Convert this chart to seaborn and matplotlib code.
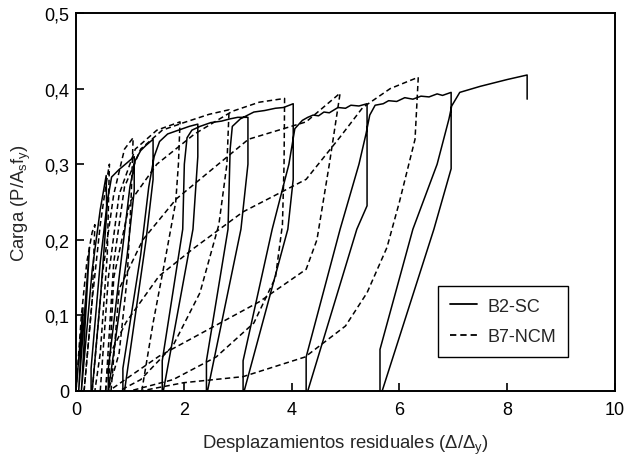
import matplotlib
matplotlib.use("Agg")
import matplotlib.pyplot as plt
import seaborn as sns
import pandas as pd

# ---------------- data ----------------
series_names = ["B2-SC", "B7-NCM"]

# B2-SC : successive load cycles (x = residual displacement, y = load)
sc_c0_x = [0.00, 0.13, 0.05, 0.25, 0.10, 0.30, 0.45, 0.56, 0.57, 0.45, 0.30]
sc_c0_y = [0.000, 0.110, 0.000, 0.190, 0.000, 0.160, 0.240, 0.285, 0.235, 0.120, 0.000]
sc_c1_x = [0.28, 0.28, 0.45, 0.58, 0.66, 0.80, 0.95, 1.08, 1.08, 0.95, 0.60]
sc_c1_y = [0.000, 0.030, 0.170, 0.250, 0.283, 0.293, 0.302, 0.310, 0.265, 0.180, 0.000]
sc_c2_x = [0.60, 0.60, 0.85, 1.00, 1.10, 1.20, 1.30, 1.43, 1.43, 1.30, 0.90]
sc_c2_y = [0.000, 0.030, 0.180, 0.270, 0.305, 0.318, 0.325, 0.333, 0.280, 0.200, 0.000]
sc_c3_x = [0.87, 0.87, 1.20, 1.35, 1.45, 1.55, 1.70, 1.90, 2.10, 2.26, 2.26, 2.17, 1.62]
sc_c3_y = [0.000, 0.030, 0.180, 0.270, 0.310, 0.330, 0.340, 0.345, 0.350, 0.353, 0.310, 0.214, 0.000]
sc_c4_x = [1.60, 1.60, 1.98, 2.01, 2.06, 2.15, 2.30, 2.50, 2.70, 2.86, 3.00, 3.19, 3.19, 3.06, 2.44]
sc_c4_y = [0.000, 0.040, 0.214, 0.300, 0.335, 0.345, 0.350, 0.355, 0.357, 0.360, 0.362, 0.362, 0.300, 0.214, 0.000]
sc_c5_x = [2.42, 2.42, 2.82, 2.86, 2.90, 3.05, 3.30, 3.50, 3.70, 3.85, 4.03, 4.03, 3.93, 3.12]
sc_c5_y = [0.000, 0.040, 0.214, 0.320, 0.350, 0.360, 0.369, 0.371, 0.374, 0.375, 0.380, 0.280, 0.214, 0.000]
sc_c6_x = [3.10, 3.10, 3.64, 3.95, 4.06, 4.20, 4.30, 4.40, 4.50, 4.60, 4.70, 4.86, 5.00, 5.10, 5.25, 5.40, 5.40, 5.21, 4.30]
sc_c6_y = [0.000, 0.040, 0.214, 0.300, 0.347, 0.358, 0.362, 0.365, 0.364, 0.369, 0.368, 0.375, 0.374, 0.378, 0.377, 0.380, 0.245, 0.214, 0.000]
sc_c7_x = [4.27, 4.27, 4.90, 5.25, 5.38, 5.45, 5.55, 5.70, 5.80, 5.95, 6.10, 6.25, 6.40, 6.55, 6.70, 6.80, 6.96, 6.96, 6.64, 5.68]
sc_c7_y = [0.000, 0.045, 0.214, 0.300, 0.340, 0.365, 0.378, 0.380, 0.384, 0.383, 0.388, 0.386, 0.390, 0.389, 0.393, 0.391, 0.395, 0.294, 0.214, 0.000]
sc_c8_x = [5.64, 5.64, 6.25, 6.70, 6.92, 6.97, 7.12, 7.50, 8.00, 8.37, 8.37]
sc_c8_y = [0.000, 0.055, 0.214, 0.300, 0.360, 0.377, 0.395, 0.403, 0.412, 0.418, 0.386]

# B7-NCM : pinched cycles (reloading branch then unloading branch)
nc_c0_x = [0.00, 0.10, 0.20, 0.30, 0.35, 0.30, 0.15]
nc_c0_y = [0.000, 0.100, 0.170, 0.210, 0.220, 0.120, 0.000]
nc_c1_x = [0.15, 0.30, 0.45, 0.55, 0.62, 0.58, 0.45, 0.35]
nc_c1_y = [0.000, 0.120, 0.220, 0.270, 0.300, 0.180, 0.050, 0.000]
nc_c2_x = [0.30, 0.50, 0.70, 0.90, 1.06, 1.02, 0.95, 0.80, 0.60]
nc_c2_y = [0.000, 0.160, 0.260, 0.320, 0.335, 0.250, 0.150, 0.050, 0.000]
nc_c3_x = [0.45, 0.60, 0.80, 1.10, 1.50, 1.93, 1.90, 1.85, 1.67, 1.43, 1.22]
nc_c3_y = [0.000, 0.150, 0.260, 0.320, 0.345, 0.356, 0.300, 0.250, 0.180, 0.090, 0.000]
nc_c4_x = [0.55, 0.70, 0.90, 1.20, 1.60, 2.00, 2.47, 2.84, 2.80, 2.65, 2.30, 1.80, 1.20, 0.80]
nc_c4_y = [0.000, 0.170, 0.270, 0.320, 0.345, 0.355, 0.366, 0.372, 0.300, 0.220, 0.130, 0.060, 0.015, 0.000]
nc_c5_x = [0.60, 0.70, 1.00, 1.50, 2.20, 2.90, 3.40, 3.87, 3.86, 3.83, 3.70, 3.30, 2.60, 1.80, 1.00]
nc_c5_y = [0.000, 0.150, 0.250, 0.300, 0.340, 0.370, 0.382, 0.387, 0.300, 0.220, 0.150, 0.090, 0.045, 0.015, 0.000]
nc_c6_x = [0.65, 0.80, 1.24, 1.86, 2.47, 3.20, 4.27, 4.90, 4.70, 4.47, 4.27, 3.40, 2.47, 1.54, 0.93, 0.61]
nc_c6_y = [0.000, 0.135, 0.200, 0.254, 0.290, 0.333, 0.356, 0.394, 0.300, 0.200, 0.161, 0.118, 0.082, 0.046, 0.016, 0.000]
nc_c7_x = [0.55, 0.61, 0.93, 1.54, 2.17, 3.10, 4.27, 4.90, 5.32, 5.83, 6.14, 6.35, 6.29, 6.00, 5.77, 5.40, 5.00, 4.25, 3.10, 2.00, 1.20]
nc_c7_y = [0.000, 0.046, 0.091, 0.152, 0.188, 0.237, 0.280, 0.336, 0.375, 0.400, 0.409, 0.415, 0.333, 0.250, 0.190, 0.130, 0.086, 0.045, 0.019, 0.011, 0.000]

x_ticks = [0, 2, 4, 6, 8, 10]
x_tick_labels = ["0", "2", "4", "6", "8", "10"]
y_ticks = [0.0, 0.1, 0.2, 0.3, 0.4, 0.5]
y_tick_labels = ["0", "0,1", "0,2", "0,3", "0,4", "0,5"]

# ---------------- build table ----------------
sc_cycles = [(sc_c0_x, sc_c0_y), (sc_c1_x, sc_c1_y), (sc_c2_x, sc_c2_y), (sc_c3_x, sc_c3_y),
             (sc_c4_x, sc_c4_y), (sc_c5_x, sc_c5_y), (sc_c6_x, sc_c6_y), (sc_c7_x, sc_c7_y),
             (sc_c8_x, sc_c8_y)]
nc_cycles = [(nc_c0_x, nc_c0_y), (nc_c1_x, nc_c1_y), (nc_c2_x, nc_c2_y), (nc_c3_x, nc_c3_y),
             (nc_c4_x, nc_c4_y), (nc_c5_x, nc_c5_y), (nc_c6_x, nc_c6_y), (nc_c7_x, nc_c7_y)]

rows = []
for cx, cy in sc_cycles:
    for a, b in zip(cx, cy):
        rows.append({"x": a, "y": b, "serie": series_names[0], "unit": "sc"})
for k, (cx, cy) in enumerate(nc_cycles):
    for a, b in zip(cx, cy):
        rows.append({"x": a, "y": b, "serie": series_names[1], "unit": f"nc{k}"})
df = pd.DataFrame(rows)

# ---------------- plot ----------------
sns.set_style("ticks")
plt.rcParams["font.family"] = ["Liberation Sans", "DejaVu Sans"]
plt.rcParams["mathtext.fontset"] = "custom"
plt.rcParams["mathtext.rm"] = "Liberation Sans"

fig = plt.figure(figsize=(6.24, 4.60), dpi=100)
ax = fig.add_axes([76 / 624, 68 / 460, (615 - 76) / 624, (392 - 14) / 460])

sns.lineplot(data=df, x="x", y="y", style="serie", units="unit", estimator=None,
             sort=False, color="black", linewidth=1.1,
             dashes={series_names[0]: "", series_names[1]: (3.5, 2.2)}, ax=ax,
             legend=True)

ax.set_xlim(0, 10)
ax.set_ylim(0, 0.5)
ax.set_xticks(x_ticks)
ax.set_xticklabels(x_tick_labels)
ax.set_yticks(y_ticks)
ax.set_yticklabels(y_tick_labels)
ax.tick_params(direction="in", length=6, width=1.2, labelsize=13, colors="black", pad=5)
ax.tick_params(axis="x", pad=7)
for sp in ax.spines.values():
    sp.set_visible(True)
    sp.set_linewidth(1.4)
    sp.set_color("black")

ax.set_xlabel("Desplazamientos residuales (\u0394/\u0394$_{\\mathregular{y}}$)", fontsize=13.3, labelpad=11)
ax.set_ylabel("Carga (P/A$_{\\mathregular{s}}$f$_{\\mathregular{y}}$)", fontsize=13.3, labelpad=8)

handles, labels = ax.get_legend_handles_labels()
keep = [(h, l) for h, l in zip(handles, labels) if l in series_names]
leg = ax.legend([h for h, _ in keep], [l for _, l in keep], loc="upper left",
                bbox_to_anchor=(0.672, 0.278), fontsize=13, frameon=True, fancybox=False,
                edgecolor="black", framealpha=1, handlelength=1.5, handletextpad=0.6,
                borderpad=0.65, labelspacing=0.75, borderaxespad=0)
leg.get_frame().set_linewidth(1.0)
for line in leg.get_lines():
    line.set_linewidth(1.3)

fig.savefig("out.png", dpi=100)
